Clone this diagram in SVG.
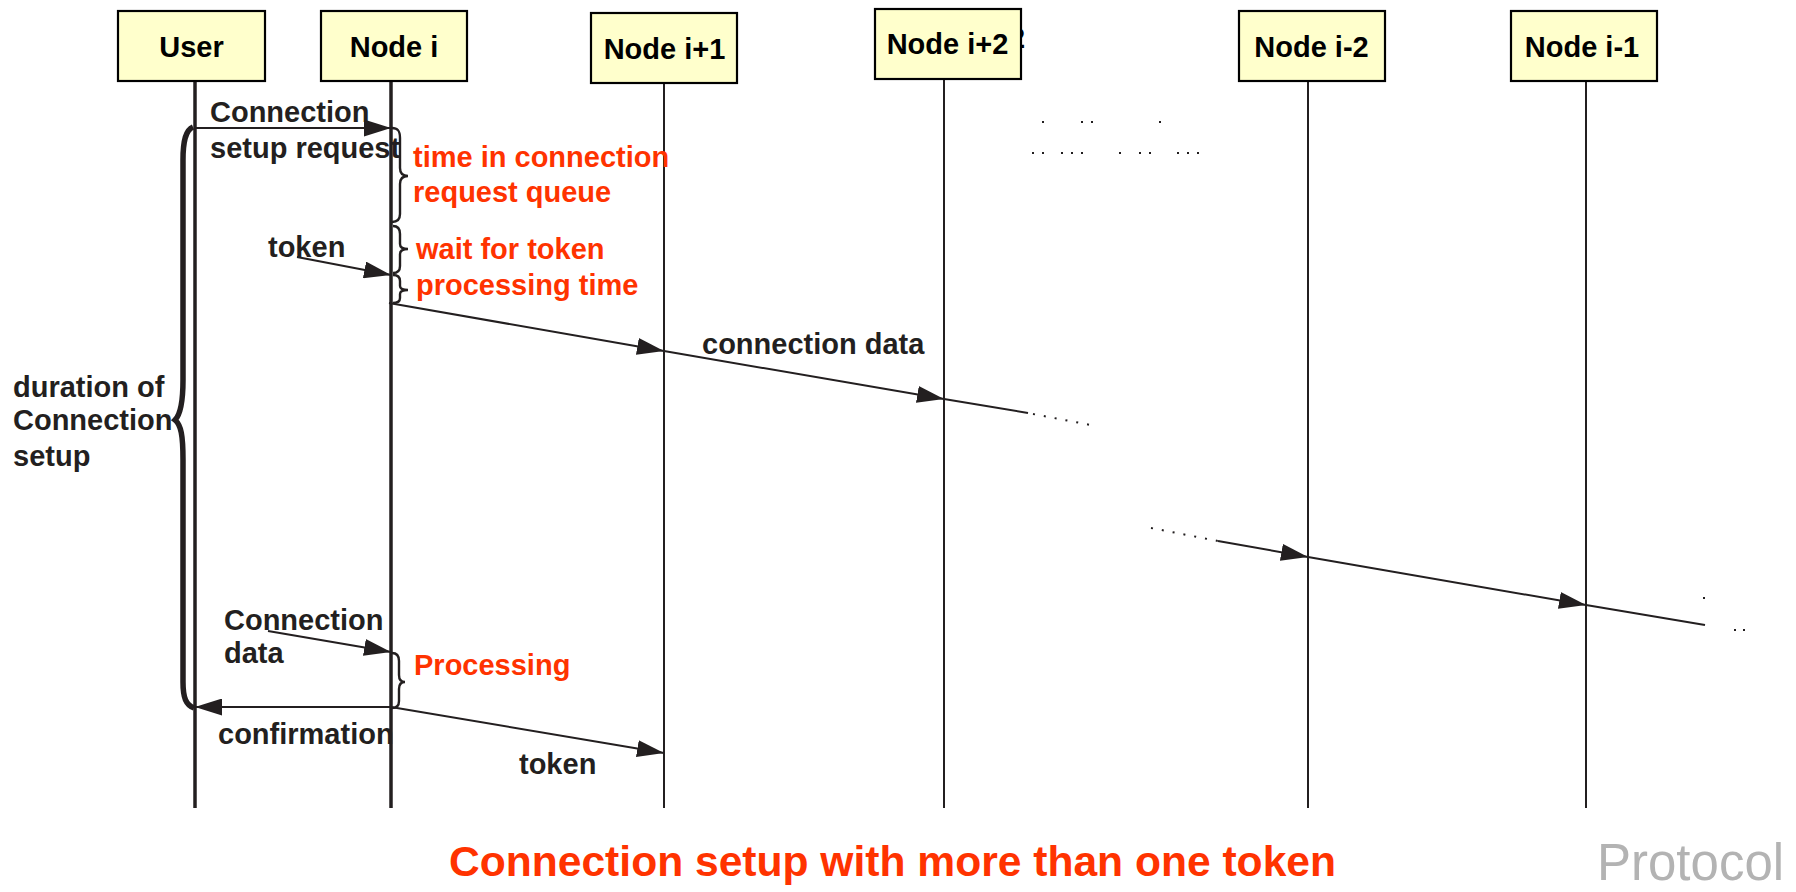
<svg xmlns="http://www.w3.org/2000/svg" width="1796" height="892" viewBox="0 0 1796 892">
  <style>
    .box { fill: #ffffcc; stroke: #000; stroke-width: 2.2; }
    .name { font-family: "Liberation Sans", Arial, sans-serif; font-weight: bold; font-size: 29px; fill: #000; }
    .life { stroke: #231f20; stroke-width: 2; }
    .life.main { stroke-width: 3.5; }
    .lbl { font-family: "Liberation Sans", Arial, sans-serif; font-weight: bold; font-size: 29px; fill: #231f20; }
    .red { font-family: "Liberation Sans", Arial, sans-serif; font-weight: bold; font-size: 29px; fill: #ff3300; }
    .msg { stroke: #231f20; stroke-width: 2; fill: none; marker-end: url(#head); }
    .brace { stroke: #231f20; stroke-width: 2.4; fill: none; }
    .dots { stroke: #231f20; stroke-width: 2; stroke-dasharray: 2 9; fill: none; }
    .dot { fill: #231f20; }
  </style>
  <defs>
    <marker id="head" markerUnits="userSpaceOnUse" markerWidth="28" markerHeight="17" refX="27" refY="8.5" orient="auto">
      <path d="M0,0 L27,8.5 L0,17 Z" fill="#231f20"/>
    </marker>
  </defs>

  <rect width="1796" height="892" fill="#fff"/>

  <!-- participants -->
  <g id="node-user">
    <line class="life main" x1="195" y1="81" x2="195" y2="808"/>
    <rect class="box" x="118" y="11" width="147" height="70"/>
    <text class="name" x="191.5" y="57" text-anchor="middle">User</text>
  </g>
  <g id="node-i">
    <line class="life main" x1="391" y1="81" x2="391" y2="808"/>
    <rect class="box" x="321" y="11" width="146" height="70"/>
    <text class="name" x="394" y="57" text-anchor="middle">Node i</text>
  </g>
  <g id="node-i-plus-1">
    <line class="life" x1="664" y1="83" x2="664" y2="808"/>
    <rect class="box" x="591" y="13" width="146" height="70"/>
    <text class="name" x="664.5" y="59" text-anchor="middle">Node i+1</text>
  </g>
  <g id="node-i-plus-2">
    <text class="name" x="1009" y="48" font-size="34">2</text>
    <line class="life" x1="944" y1="79" x2="944" y2="808"/>
    <rect class="box" x="875" y="9" width="146" height="70"/>
    <text class="name" x="947.5" y="54" text-anchor="middle">Node i+2</text>
  </g>
  <g id="node-i-minus-2">
    <line class="life" x1="1308" y1="81" x2="1308" y2="808"/>
    <rect class="box" x="1239" y="11" width="146" height="70"/>
    <text class="name" x="1311.5" y="57" text-anchor="middle">Node i-2</text>
  </g>
  <g id="node-i-minus-1">
    <line class="life" x1="1586" y1="81" x2="1586" y2="808"/>
    <rect class="box" x="1511" y="11" width="146" height="70"/>
    <text class="name" x="1582" y="57" text-anchor="middle">Node i-1</text>
  </g>

  <!-- messages -->
  <g id="connectors">
    <line class="msg" x1="195" y1="128" x2="391" y2="128"/>
    <line class="msg" x1="297" y1="257" x2="391" y2="275"/>
    <line class="msg" x1="389" y1="303" x2="664" y2="351"/>
    <line class="msg" x1="664" y1="351" x2="944" y2="399"/>
    <line class="msg" x1="944" y1="399" x2="1028" y2="413" style="marker-end:none"/>
    <path class="dots" d="M1033,414 L1096,426"/>
    <path class="dots" d="M1151,528 L1218,541"/>
    <line class="msg" x1="1218" y1="541" x2="1308" y2="557"/>
    <line class="msg" x1="1308" y1="557" x2="1586" y2="605"/>
    <line class="msg" x1="1586" y1="605" x2="1705" y2="625" style="marker-end:none"/>
    <line class="msg" x1="268" y1="631" x2="391" y2="652"/>
    <line class="msg" x1="391" y1="707" x2="195" y2="707"/>
    <line class="msg" x1="391" y1="707" x2="664" y2="753"/>
  </g>

  <!-- residual dots -->
  <g id="dots">
    <rect class="dot" x="1042" y="121" width="2" height="2"/>
    <rect class="dot" x="1081" y="121" width="2" height="2"/>
    <rect class="dot" x="1091" y="121" width="2" height="2"/>
    <rect class="dot" x="1159" y="121" width="2" height="2"/>
    <rect class="dot" x="1032" y="152" width="2" height="2"/>
    <rect class="dot" x="1042" y="152" width="2" height="2"/>
    <rect class="dot" x="1061" y="152" width="2" height="2"/>
    <rect class="dot" x="1071" y="152" width="2" height="2"/>
    <rect class="dot" x="1081" y="152" width="2" height="2"/>
    <rect class="dot" x="1119" y="152" width="2" height="2"/>
    <rect class="dot" x="1139" y="152" width="2" height="2"/>
    <rect class="dot" x="1149" y="152" width="2" height="2"/>
    <rect class="dot" x="1177" y="152" width="2" height="2"/>
    <rect class="dot" x="1187" y="152" width="2" height="2"/>
    <rect class="dot" x="1197" y="152" width="2" height="2"/>
    <rect class="dot" x="1703" y="597" width="2" height="2"/>
    <rect class="dot" x="1734" y="629" width="2" height="2"/>
    <rect class="dot" x="1743" y="629" width="2" height="2"/>
  </g>

  <!-- braces -->
  <g id="braces">
    <path d="M193,127 C186,130 183,140 183,160 L183,380 C183,405 180,415 175,420 C181,425 183,435 183,460 L183,682 C183,698 186,705 194,708" stroke="#231f20" stroke-width="5.5" fill="none"/>
    <path class="brace" d="M392,128 C398,128 400,131 400,138 L400,168 C400,173 402,176 408,176 C402,176 400,179 400,184 L400,214 C400,220 397,222 392,222"/>
    <path class="brace" d="M393,226 C398,226 400,229 400,234 L400,244 C400,247 402,249 408,249 C402,249 400,251 400,254 L400,266 C400,271 398,273 393,273"/>
    <path class="brace" d="M393,275 C398,275 400,277 400,281 L400,286 C400,288 402,290 408,290 C402,290 400,292 400,294 L400,298 C400,301 398,303 393,303"/>
    <path class="brace" d="M392,653 C397,653 399,656 399,661 L399,675 C399,679 401,682 405,682 C401,682 399,685 399,689 L399,701 C399,706 397,708 392,708"/>
  </g>

  <!-- labels -->
  <g id="labels">
    <text class="lbl" x="210" y="122">Connection</text>
    <text class="lbl" x="210" y="158">setup request</text>
    <text class="lbl" x="268" y="257">token</text>
    <text class="lbl" x="702" y="354">connection data</text>
    <text class="lbl" x="13" y="397">duration of</text>
    <text class="lbl" x="13" y="430">Connection</text>
    <text class="lbl" x="13" y="466">setup</text>
    <text class="lbl" x="224" y="630">Connection</text>
    <text class="lbl" x="224" y="663">data</text>
    <text class="lbl" x="218" y="744">confirmation</text>
    <text class="lbl" x="519" y="774">token</text>
    <text class="red" x="413" y="167">time in connection</text>
    <text class="red" x="413" y="202">request queue</text>
    <text class="red" x="416" y="259">wait for token</text>
    <text class="red" x="416" y="295">processing time</text>
    <text class="red" x="414" y="675">Processing</text>
  </g>

  <!-- caption -->
  <text x="449" y="876" textLength="887" lengthAdjust="spacingAndGlyphs" font-family="Liberation Sans, Arial, sans-serif" font-weight="bold" font-size="42.6" fill="#ff3300">Connection setup with more than one token</text>
  <text x="1597" y="880" font-family="Liberation Sans, Arial, sans-serif" font-size="51" fill="#b3b3b3">Protocol</text>
</svg>
